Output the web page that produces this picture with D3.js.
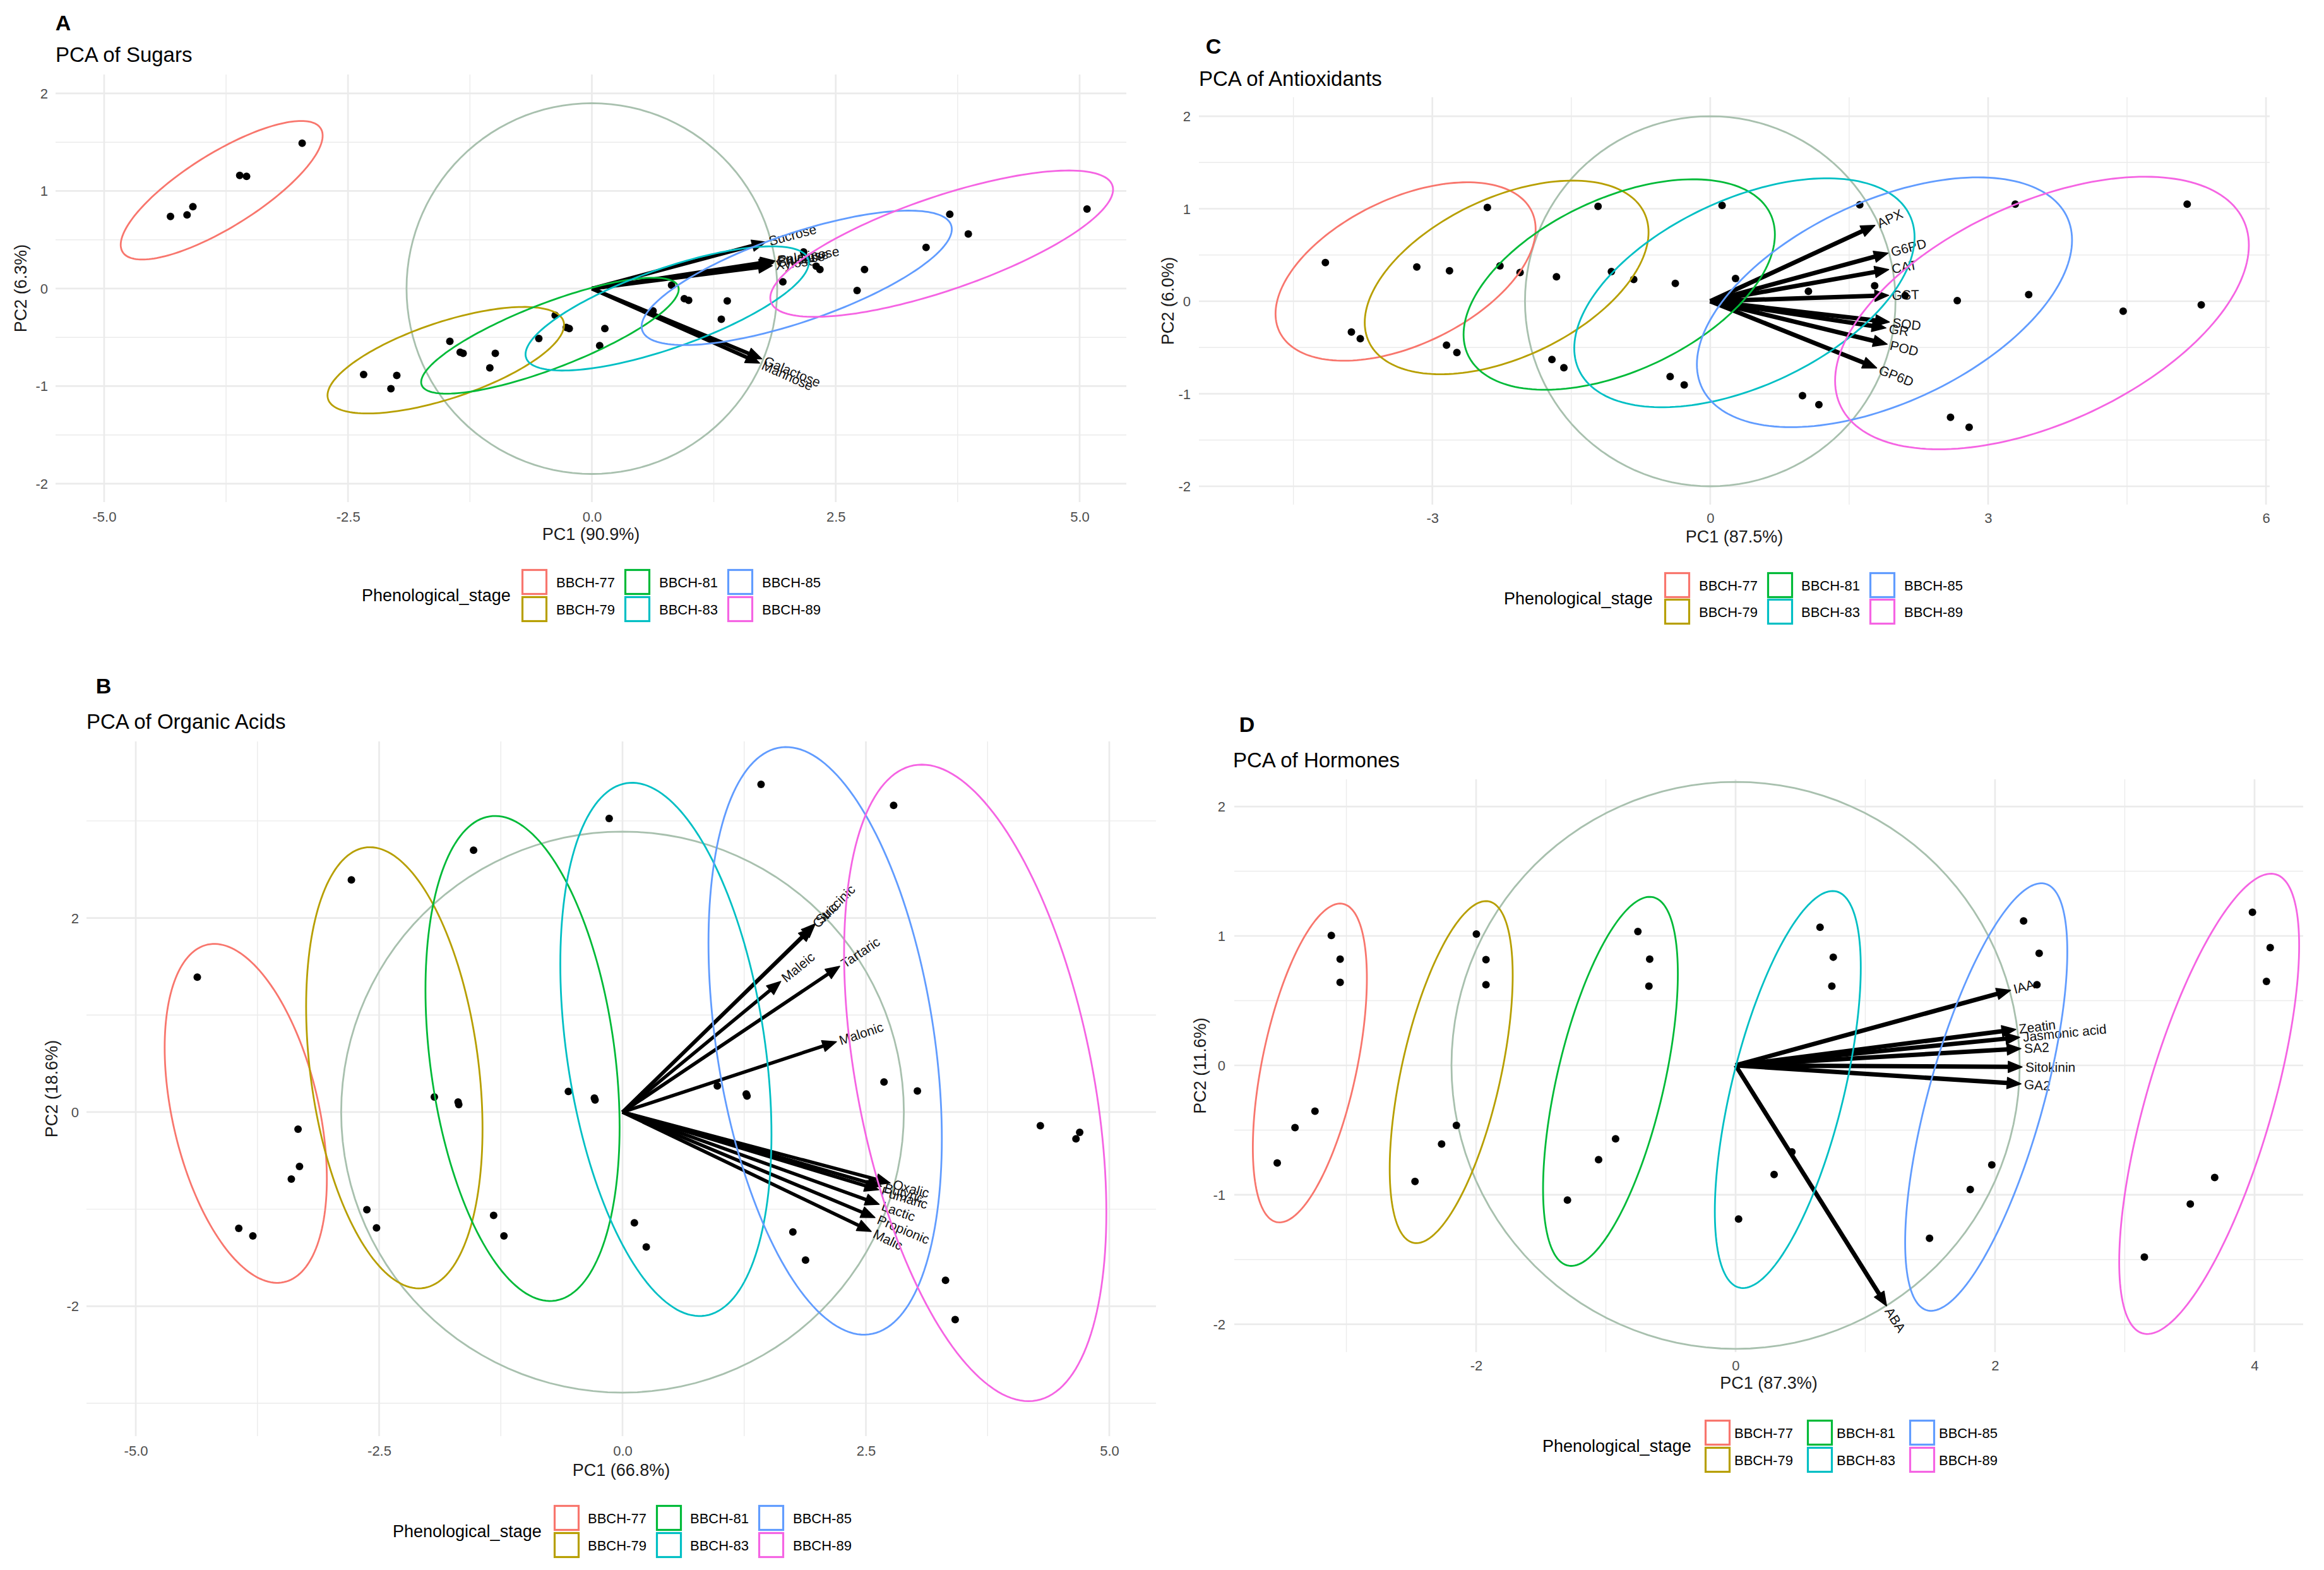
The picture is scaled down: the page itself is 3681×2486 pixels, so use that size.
<!DOCTYPE html>
<html>
<head>
<meta charset="utf-8">
<script src="https://cdn.jsdelivr.net/npm/d3@7"></script>
<style>
  body { margin: 0; background: #fff; }
</style>
</head>
<body>
<svg id="chart" width="3681" height="2486"></svg>
<script>
const FONT = '"Liberation Sans", Arial, Helvetica, sans-serif';

// Stages and ggplot hue colours
const stages = ["BBCH-77", "BBCH-79", "BBCH-81", "BBCH-83", "BBCH-85", "BBCH-89"];
const stageColours = ["#F8766D", "#B79F00", "#00BA38", "#00BFC4", "#619CFF", "#F564E3"];

// ---- A: sugars ----
const sugarScores = [
  [-4.32, 0.74], [-4.15, 0.755], [-4.09, 0.84], [-3.61, 1.16], [-3.54, 1.15], [-2.97, 1.49],
  [-2.34, -0.88], [-2.06, -1.026], [-2.00, -0.89], [-1.456, -0.541], [-1.35, -0.653], [-1.32, -0.663],
  [-0.99, -0.663], [-1.046, -0.813], [-0.544, -0.511], [-0.376, -0.273], [-0.262, -0.399], [-0.232, -0.409],
  [0.08, -0.585], [0.133, -0.409], [0.627, -0.229], [0.817, 0.036], [0.947, -0.103], [0.992, -0.12],
  [1.327, -0.314], [1.388, -0.127], [1.692, 0.45], [1.958, 0.07], [2.171, 0.375], [2.30, 0.229],
  [2.338, 0.195], [2.719, -0.019], [2.795, 0.195], [3.426, 0.422], [3.669, 0.762], [3.859, 0.559],
  [5.076, 0.816]
];
const sugarLoadings = [
  ["Sucrose", 1.785, 0.477],
  ["Fructose", 1.87, 0.275],
  ["Glucose", 1.86, 0.262],
  ["Palatinose", 1.875, 0.285],
  ["Xylose", 1.85, 0.235],
  ["Galactose", 1.742, -0.72],
  ["Mannose", 1.72, -0.764]
];
// per stage: centre x, centre y, half-width, half-height, x offset of the top point
const sugarEllipses = [
  [-3.795, 1.008, 1.035, 0.71, 0.815],
  [-1.4975, -0.734, 1.2125, 0.546, 0.80],
  [-0.43, -0.483, 1.32, 0.594, 1.057],
  [0.772, -0.2035, 1.452, 0.6365, 1.072],
  [2.10, 0.11, 1.59, 0.689, 1.15],
  [3.586, 0.46, 1.757, 0.75, 1.30]
];
const sugarCircle = 1.9;
const sugarXTicks = [-5, -2.5, 0, 2.5, 5];
const sugarYTicks = [-2, -1, 0, 1, 2];

// ---- B: organic acids ----
const acidScores = [
  [-4.368, 1.390], [-3.333, -0.176], [-3.318, -0.560], [-3.402, -0.690], [-3.942, -1.198], [-3.797, -1.276],
  [-2.785, 2.392], [-2.626, -1.006], [-2.527, -1.193], [-1.933, 0.156], [-1.689, 0.104], [-1.682, 0.078],
  [-1.530, 2.698], [-1.324, -1.064], [-1.218, -1.276], [-0.556, 0.213], [-0.289, 0.145], [-0.282, 0.125],
  [-0.137, 3.025], [0.122, -1.141], [0.244, -1.390], [0.974, 0.270], [1.271, 0.187], [1.279, 0.166],
  [1.423, 3.377], [1.750, -1.235], [1.880, -1.525], [2.686, 0.311], [3.029, 0.218], [2.785, 3.160],
  [3.318, -1.733], [3.417, -2.137], [4.292, -0.140], [4.658, -0.275], [4.696, -0.208]
];
const acidLoadings = [
  ["Succinic", 1.98, 1.94],
  ["Citric", 1.95, 1.90],
  ["Maleic", 1.626, 1.347],
  ["Tartaric", 2.231, 1.503],
  ["Malonic", 2.198, 0.726],
  ["Oxalic", 2.75, -0.731],
  ["Butyric", 2.66, -0.765],
  ["Fumaric", 2.631, -0.80],
  ["Lactic", 2.637, -0.95],
  ["Propionic", 2.594, -1.087],
  ["Malic", 2.555, -1.23]
];
const acidEllipses = [
  [-3.87, -0.013, 0.833, 1.746, -0.323],
  [-2.344, 0.4565, 0.906, 2.2725, -0.251],
  [-1.027, 0.5525, 0.997, 2.4985, -0.282],
  [0.4455, 0.646, 1.0845, 2.747, -0.3465],
  [2.0815, 0.734, 1.1985, 3.027, -0.3995],
  [3.623, 0.301, 1.347, 3.279, -0.548]
];
const acidCircle = 2.89;
const acidXTicks = [-5, -2.5, 0, 2.5, 5];
const acidYTicks = [-2, 0, 2];

// ---- C: antioxidants ----
const antioxScores = [
  [-4.155, 0.418], [-3.874, -0.332], [-3.778, -0.404], [-3.168, 0.371], [-2.815, 0.329], [-2.406, 1.014],
  [-2.847, -0.475], [-2.735, -0.554], [-2.27, 0.382], [-2.053, 0.311], [-1.66, 0.264], [-1.709, -0.629],
  [-1.58, -0.718], [-1.211, 1.025], [-1.067, 0.321], [-0.826, 0.236], [-0.377, 0.193], [-0.433, -0.814],
  [-0.281, -0.904], [0.128, 1.036], [0.273, 0.246], [1.06, 0.107], [0.996, -1.021], [1.173, -1.118],
  [1.614, 1.043], [1.775, 0.168], [2.104, 0.061], [2.667, 0.007], [2.594, -1.254], [2.795, -1.361],
  [3.293, 1.05], [3.438, 0.071], [4.458, -0.107], [5.149, 1.05], [5.301, -0.039]
];
const antioxLoadings = [
  ["APX", 1.779, 0.821],
  ["G6PD", 1.92, 0.521],
  ["CAT", 1.927, 0.343],
  ["GST", 1.927, 0.064],
  ["SOD", 1.934, -0.225],
  ["GR", 1.897, -0.289],
  ["POD", 1.911, -0.464],
  ["GP6D", 1.797, -0.721]
];
const antioxEllipses = [
  [-3.289, 0.3215, 1.404, 0.9645, 0.666],
  [-2.198, 0.2575, 1.532, 1.0465, 0.714],
  [-0.9825, 0.1805, 1.6805, 1.1375, 0.7985],
  [0.369, 0.0915, 1.837, 1.2375, 0.89],
  [1.881, -0.011, 2.025, 1.35, 1.007],
  [3.5815, -0.127, 2.2335, 1.473, 1.11]
];
const antioxCircle = 2.0;
const antioxXTicks = [-3, 0, 3, 6];
const antioxYTicks = [-2, -1, 0, 1, 2];

// ---- D: hormones ----
const hormoneScores = [
  [-3.116, 1.004], [-3.048, 0.821], [-3.048, 0.642], [-3.242, -0.354], [-3.396, -0.481], [-3.533, -0.754],
  [-1.998, 1.015], [-1.924, 0.817], [-1.924, 0.623], [-2.152, -0.463], [-2.266, -0.608], [-2.471, -0.896],
  [-0.753, 1.034], [-0.662, 0.821], [-0.668, 0.612], [-0.925, -0.567], [-1.056, -0.728], [-1.296, -1.041],
  [0.651, 1.067], [0.753, 0.836], [0.742, 0.612], [0.434, -0.668], [0.297, -0.843], [0.023, -1.187],
  [2.220, 1.116], [2.340, 0.866], [2.323, 0.623], [1.975, -0.769], [1.809, -0.959], [1.495, -1.336],
  [3.984, 1.183], [4.121, 0.910], [4.092, 0.649], [3.693, -0.866], [3.505, -1.071], [3.151, -1.481]
];
const hormoneLoadings = [
  ["IAA", 2.12, 0.581],
  ["Zeatin", 2.16, 0.278],
  ["Jasmonic acid", 2.19, 0.217],
  ["SA2", 2.20, 0.13],
  ["Sitokinin", 2.209, -0.012],
  ["GA2", 2.20, -0.143],
  ["ABA", 1.164, -1.858]
];
const hormoneEllipses = [
  [-3.2815, 0.0185, 0.4395, 1.2315, 0.2335],
  [-2.192, -0.052, 0.474, 1.321, 0.268],
  [-0.9645, -0.1235, 0.5195, 1.4255, 0.3025],
  [0.4025, -0.1865, 0.5625, 1.5335, 0.3455],
  [1.932, -0.2445, 0.625, 1.6515, 0.425],
  [3.6505, -0.297, 0.6935, 1.778, 0.4765]
];
const hormoneCircle = 2.19;
const hormoneXTicks = [-2, 0, 2, 4];
const hormoneYTicks = [-2, -1, 0, 1, 2];

// midpoints between ticks, like ggplot minor breaks
function minorOf(ticks) {
  const step = ticks[1] - ticks[0];
  const out = [];
  for (let i = -1; i < ticks.length; i++) out.push(ticks[0] + step * (i + 0.5));
  return out;
}

const panels = [
  { tag: "A", title: "PCA of Sugars", xTitle: "PC1 (90.9%)", yTitle: "PC2 (6.3%)",
    scores: sugarScores, loadings: sugarLoadings, ellipses: sugarEllipses, radius: sugarCircle,
    xTicks: sugarXTicks, yTicks: sugarYTicks, xFmt: d => d.toFixed(1),
    box: [88, 1784, 118, 795], xDom: [-5.498, 5.479], yDom: [-2.188, 2.194],
    tagPos: [100, 36], titlePos: [88, 86], xTickY: 818, xTitleY: 846, yTitleX: 33, yTickX: 76,
    legTitleX: 573, keyX: [826, 989, 1152], rowY: [901, 944], labX: [881, 1044, 1207], arrowW: 6 },
  { tag: "B", title: "PCA of Organic Acids", xTitle: "PC1 (66.8%)", yTitle: "PC2 (18.6%)",
    scores: acidScores, loadings: acidLoadings, ellipses: acidEllipses, radius: acidCircle,
    xTicks: acidXTicks, yTicks: acidYTicks, xFmt: d => d.toFixed(1),
    box: [137, 1831, 1174, 2274], xDom: [-5.506, 5.480], yDom: [-3.338, 3.819],
    tagPos: [164, 1086], titlePos: [137, 1142], xTickY: 2297, xTitleY: 2328, yTitleX: 82, yTickX: 125,
    legTitleX: 622, keyX: [877, 1039, 1201], rowY: [2383, 2426], labX: [931, 1093, 1256], arrowW: 5.5 },
  { tag: "C", title: "PCA of Antioxidants", xTitle: "PC1 (87.5%)", yTitle: "PC2 (6.0%)",
    scores: antioxScores, loadings: antioxLoadings, ellipses: antioxEllipses, radius: antioxCircle,
    xTicks: antioxXTicks, yTicks: antioxYTicks, xFmt: d => String(d),
    box: [1899, 3595, 154, 799], xDom: [-5.52, 6.04], yDom: [-2.198, 2.205],
    tagPos: [1922, 73], titlePos: [1899, 124], xTickY: 820, xTitleY: 850, yTitleX: 1850, yTickX: 1886,
    legTitleX: 2382, keyX: [2636, 2799, 2961], rowY: [906, 948], labX: [2691, 2853, 3016], arrowW: 7 },
  { tag: "D", title: "PCA of Hormones", xTitle: "PC1 (87.3%)", yTitle: "PC2 (11.6%)",
    scores: hormoneScores, loadings: hormoneLoadings, ellipses: hormoneEllipses, radius: hormoneCircle,
    xTicks: hormoneXTicks, yTicks: hormoneYTicks, xFmt: d => String(d),
    box: [1955, 3648, 1234, 2141], xDom: [-3.864, 4.375], yDom: [-2.215, 2.21],
    tagPos: [1975, 1147], titlePos: [1953, 1203], xTickY: 2162, xTitleY: 2190, yTitleX: 1901, yTickX: 1941,
    legTitleX: 2443, keyX: [2700, 2862, 3024], rowY: [2248, 2291], labX: [2747, 2909, 3071], arrowW: 7 }
];

const svg = d3.select("#chart");
svg.append("rect").attr("width", 3681).attr("height", 2486).attr("fill", "#fff");

function drawPanel(p) {
  const [x0, x1, y0, y1] = p.box;
  const x = d3.scaleLinear().domain(p.xDom).range([x0, x1]);
  const y = d3.scaleLinear().domain(p.yDom).range([y1, y0]);
  const g = svg.append("g").attr("font-family", FONT);

  const inX = d => d > p.xDom[0] && d < p.xDom[1];
  const inY = d => d > p.yDom[0] && d < p.yDom[1];

  // grid: minor then major
  g.selectAll(".vmin").data(minorOf(p.xTicks).filter(inX)).enter().append("line")
    .attr("x1", d => x(d)).attr("x2", d => x(d)).attr("y1", y0).attr("y2", y1)
    .attr("stroke", "#ebebeb").attr("stroke-width", 1.4);
  g.selectAll(".hmin").data(minorOf(p.yTicks).filter(inY)).enter().append("line")
    .attr("y1", d => y(d)).attr("y2", d => y(d)).attr("x1", x0).attr("x2", x1)
    .attr("stroke", "#ebebeb").attr("stroke-width", 1.4);
  g.selectAll(".vmaj").data(p.xTicks).enter().append("line")
    .attr("x1", d => x(d)).attr("x2", d => x(d)).attr("y1", y0).attr("y2", y1)
    .attr("stroke", "#ebebeb").attr("stroke-width", 2.7);
  g.selectAll(".hmaj").data(p.yTicks).enter().append("line")
    .attr("y1", d => y(d)).attr("y2", d => y(d)).attr("x1", x0).attr("x2", x1)
    .attr("stroke", "#ebebeb").attr("stroke-width", 2.7);

  // tick labels via d3 axes
  const xa = g.append("g").attr("transform", `translate(0,${p.xTickY})`)
    .call(d3.axisBottom(x).tickValues(p.xTicks).tickSize(0).tickPadding(0).tickFormat(p.xFmt));
  const ya = g.append("g").attr("transform", `translate(${p.yTickX},0)`)
    .call(d3.axisLeft(y).tickValues(p.yTicks).tickSize(0).tickPadding(0).tickFormat(d => String(d)));
  [xa, ya].forEach(a => {
    a.attr("font-family", FONT).attr("font-size", 22);
    a.select(".domain").remove();
    a.selectAll("line").remove();
    a.selectAll("text").attr("fill", "#4d4d4d").attr("dy", null).attr("dominant-baseline", "central");
  });
  xa.selectAll("text").attr("y", 0);
  ya.selectAll("text").attr("x", 0);

  // axis titles
  g.append("text").attr("x", (x0 + x1) / 2).attr("y", p.xTitleY)
    .attr("text-anchor", "middle").attr("dominant-baseline", "central")
    .attr("font-size", 27).attr("fill", "#1a1a1a").text(p.xTitle);
  g.append("text").attr("transform", `translate(${p.yTitleX},${(y0 + y1) / 2}) rotate(-90)`)
    .attr("text-anchor", "middle").attr("dominant-baseline", "central")
    .attr("font-size", 27).attr("fill", "#1a1a1a").text(p.yTitle);

  // tag and title
  g.append("text").attr("x", p.tagPos[0]).attr("y", p.tagPos[1])
    .attr("text-anchor", "middle").attr("dominant-baseline", "central")
    .attr("font-size", 34).attr("font-weight", "bold").text(p.tag);
  g.append("text").attr("x", p.titlePos[0]).attr("y", p.titlePos[1])
    .attr("dominant-baseline", "central").attr("font-size", 33).text(p.title);

  // correlation circle
  const circ = d3.range(0, 361, 3).map(a => [p.radius * Math.cos(a * Math.PI / 180), p.radius * Math.sin(a * Math.PI / 180)]);
  const line = d3.line().x(d => x(d[0])).y(d => y(d[1]));
  g.append("path").attr("d", line.curve(d3.curveLinearClosed)(circ))
    .attr("fill", "none").attr("stroke", "#a8c0ae").attr("stroke-width", 2.8);

  // loading arrows
  const ox = x(0), oy = y(0);
  const hl = 22, hw = 9;
  p.loadings.forEach(([name, lx, ly]) => {
    const tx = x(lx), ty = y(ly);
    const dx = tx - ox, dy = ty - oy, len = Math.hypot(dx, dy);
    const ux = dx / len, uy = dy / len;
    const bx = tx - ux * hl, by = ty - uy * hl;
    g.append("line").attr("x1", ox).attr("y1", oy).attr("x2", bx + ux * 3).attr("y2", by + uy * 3)
      .attr("stroke", "#000").attr("stroke-width", p.arrowW);
    g.append("path")
      .attr("d", `M${tx},${ty}L${bx - uy * hw},${by + ux * hw}L${bx + uy * hw},${by - ux * hw}Z`)
      .attr("fill", "#000").attr("stroke", "#000").attr("stroke-width", 1.5).attr("stroke-linejoin", "round");
    const ang = Math.atan2(dy, dx) * 180 / Math.PI;
    g.append("text").attr("transform", `translate(${tx + ux * 5},${ty + uy * 5}) rotate(${ang})`)
      .attr("dominant-baseline", "central").attr("font-size", 21).attr("fill", "#111").text(name);
  });

  // scores
  g.selectAll(".pt").data(p.scores).enter().append("circle")
    .attr("cx", d => x(d[0])).attr("cy", d => y(d[1])).attr("r", 6).attr("fill", "#000");

  // confidence ellipses (from bounding extent and top point offset)
  p.ellipses.forEach((e, i) => {
    const [cx, cy, w, h, topX] = e;
    const l21 = topX * h / w;
    const l22 = Math.sqrt(Math.max(h * h - l21 * l21, 1e-6));
    const pts = d3.range(0, 360, 2).map(a => {
      const t = a * Math.PI / 180;
      return [cx + w * Math.cos(t), cy + l21 * Math.cos(t) + l22 * Math.sin(t)];
    });
    g.append("path").attr("d", d3.line().x(d => x(d[0])).y(d => y(d[1])).curve(d3.curveLinearClosed)(pts))
      .attr("fill", "none").attr("stroke", stageColours[i]).attr("stroke-width", 2.8);
  });

  // legend
  const legMid = (p.rowY[0] + p.rowY[1] + 41) / 2;
  g.append("text").attr("x", p.legTitleX).attr("y", legMid)
    .attr("dominant-baseline", "central").attr("font-size", 27).text("Phenological_stage");
  stages.forEach((s, i) => {
    const col = Math.floor(i / 2), row = i % 2;
    g.append("rect").attr("x", p.keyX[col] + 1.5).attr("y", p.rowY[row] + 1.5)
      .attr("width", 38).attr("height", 38)
      .attr("fill", "#fff").attr("stroke", stageColours[i]).attr("stroke-width", 3.2);
    g.append("text").attr("x", p.labX[col]).attr("y", p.rowY[row] + 21)
      .attr("dominant-baseline", "central").attr("font-size", 22).text(s);
  });
}

panels.forEach(drawPanel);
</script>
</body>
</html>
